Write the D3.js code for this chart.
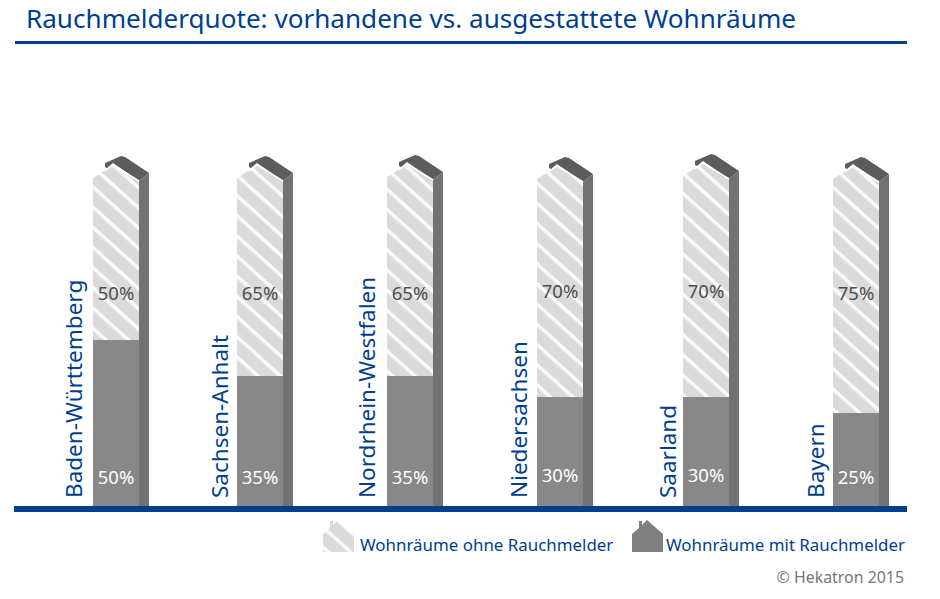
<!DOCTYPE html>
<html>
<head>
<meta charset="utf-8">
<script src="https://cdn.jsdelivr.net/npm/d3@7"></script>
<style>
  body { margin: 0; background: #fff; }
  text { font-family: "Noto Sans", sans-serif; }
</style>
</head>
<body>
<svg width="940" height="599"></svg>
<script>
const states = ["Baden-Württemberg", "Sachsen-Anhalt", "Nordrhein-Westfalen", "Niedersachsen", "Saarland", "Bayern"];
const withDetector = [50, 35, 35, 30, 30, 25];
const withoutDetector = [50, 65, 65, 70, 70, 75];
const legendLabels = ["Wohnräume ohne Rauchmelder", "Wohnräume mit Rauchmelder"];

const blue = "#003f8f";
const svg = d3.select("svg");

// the bars in the picture are not proportional, so the scale follows what they show
const y = d3.scaleLinear().domain([0, 25, 30, 35, 50]).range([506, 413, 397, 376, 340]);
const x = d3.scaleOrdinal().domain(states).range([93, 237, 387, 537, 683, 833]);
const labelX = d3.scaleOrdinal().domain(states).range([82, 228, 375, 527, 676, 824]);
// small hand placed offsets of the original artwork
const roofShift = d3.scaleOrdinal().domain(states).range([0, 0, -1, 1, -2, 1]);
const textShift = d3.scaleOrdinal().domain(states).range([0, 0, 0, -2, -2, 0]);
const barW = 46, sideW = 10;

const pattern = svg.append("defs").append("pattern")
  .attr("id", "hatch")
  .attr("patternUnits", "userSpaceOnUse")
  .attr("width", 15).attr("height", 15)
  .attr("patternTransform", "rotate(42)");
pattern.append("rect").attr("width", 15).attr("height", 15).attr("fill", "#dadada");
pattern.append("rect").attr("width", 15).attr("height", 3.5).attr("fill", "#fafafa");

svg.append("text").attr("x", 26).attr("y", 28)
  .attr("font-size", 26.1).attr("fill", blue)
  .text("Rauchmelderquote: vorhandene vs. ausgestattete Wohnräume");
svg.append("rect").attr("x", 15).attr("y", 41).attr("width", 892).attr("height", 3).attr("fill", blue);

const housePath = d => {
  const l = x(d), r = l + barW, base = y(0), s = roofShift(d);
  return `M${l},${base}V${178 + s}L${l + 20},${165 + s}L${r},${181 + s}V${base}Z`;
};
const roofLine = d => {
  const l = x(d), r = l + barW, s = roofShift(d);
  return `M${l + 12},${171 + s}L${l + 20},${165 + s}L${r},${181 + s}`;
};
const roofPath = d => {
  const l = x(d), r = l + barW, s = roofShift(d);
  return `M${r},${181 + s}L${l + 20},${163 + s}L${l + 14},${168 + s}L${l + 12},${167 + s}V${163 + s}L${l + 28},${156 + s}L${l + 32},${157 + s}L${r + sideW},${173 + s}Z`;
};
const sidePath = d => {
  const r = x(d) + barW, base = y(0), s = roofShift(d);
  return `M${r},${base}V${181 + s}L${r + sideW},${173 + s}V${base}Z`;
};

const bars = svg.append("g").selectAll("g").data(states).join("g");

bars.append("path").attr("d", roofPath).attr("fill", "#5c5c5c");
bars.append("path").attr("d", sidePath).attr("fill", "#727272");
bars.append("path").attr("d", housePath).attr("fill", "url(#hatch)");
bars.append("path").attr("d", roofLine).attr("fill", "none")
  .attr("stroke", "#fff").attr("stroke-width", 1.5);
bars.append("rect")
  .attr("x", d => x(d)).attr("width", barW)
  .attr("y", (d, i) => y(withDetector[i]))
  .attr("height", (d, i) => y(0) - y(withDetector[i]))
  .attr("fill", "#888");

bars.append("text")
  .attr("x", d => x(d) + barW / 2).attr("y", d => 484 + textShift(d))
  .attr("text-anchor", "middle").attr("font-size", 18.5).attr("fill", "#fff")
  .text((d, i) => withDetector[i] + "%");
bars.append("text")
  .attr("x", d => x(d) + barW / 2).attr("y", d => 300 + textShift(d))
  .attr("text-anchor", "middle").attr("font-size", 18.5).attr("fill", "#4d4d4d")
  .text((d, i) => withoutDetector[i] + "%");
bars.append("text")
  .attr("transform", d => `translate(${labelX(d)},498) rotate(-90)`)
  .attr("font-size", 22.5).attr("fill", blue)
  .text(d => d);

svg.append("rect").attr("x", 14).attr("y", 506).attr("width", 893).attr("height", 6).attr("fill", blue);

// legend
const legendX = d3.scaleOrdinal().domain(legendLabels).range([323, 632]);
const legend = svg.append("g").selectAll("g").data(legendLabels).join("g")
  .attr("transform", d => `translate(${legendX(d)},0)`);
legend.append("path")
  .attr("d", "M0,552V534L7,528V521H10V525L15,520L31,534V552Z")
  .attr("fill", (d, i) => i ? "#808080" : "url(#hatch)");
legend.append("text")
  .attr("x", (d, i) => i ? 34 : 37).attr("y", 551)
  .attr("font-size", 16.9).attr("fill", blue)
  .text(d => d);

svg.append("text").attr("x", 904).attr("y", 583).attr("text-anchor", "end")
  .attr("font-size", 15.9).attr("fill", "#777")
  .text("© Hekatron 2015");
</script>
</body>
</html>
